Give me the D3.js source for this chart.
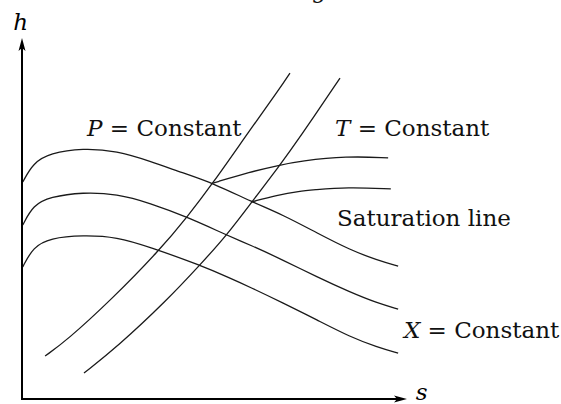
<!DOCTYPE html>
<html>
<head>
<meta charset="utf-8">
<script src="https://cdn.jsdelivr.net/npm/d3@7"></script>
<style>
  html, body { margin: 0; padding: 0; background: #fff; }
  svg { display: block; }
</style>
</head>
<body>
<div id="canvas"></div>
<script>
// Constant-pressure lines, as [s, h] points (arbitrary units, 0..10 on each axis).
const pressure1 = [[0.02, 6.01], [0.29, 6.54], [0.73, 6.81], [1.58, 6.95], [2.47, 6.87], [3.32, 6.59],
                   [4.18, 6.26], [4.96, 5.98], [5.97, 5.46], [6.78, 5.10], [7.66, 4.60], [8.52, 4.13],
                   [9.22, 3.85], [9.77, 3.68]];
const pressure2 = [[0.02, 4.82], [0.29, 5.37], [0.73, 5.60], [1.58, 5.73], [2.47, 5.68], [3.32, 5.43],
                   [4.29, 5.04], [5.32, 4.54], [5.92, 4.27], [6.78, 3.85], [7.66, 3.38], [8.52, 2.96],
                   [9.22, 2.66], [9.77, 2.49]];
const pressure3 = [[0.02, 3.66], [0.29, 4.21], [0.73, 4.46], [1.58, 4.54], [2.47, 4.49], [3.32, 4.21],
                   [4.62, 3.71], [5.40, 3.35], [5.92, 3.10], [6.78, 2.66], [7.66, 2.19], [8.52, 1.72],
                   [9.22, 1.44], [9.77, 1.27]];

// Constant-quality lines (the steep ones).
const quality1 = [[0.60, 1.19], [1.17, 1.63], [2.31, 2.74], [3.58, 4.13], [4.29, 5.04], [4.96, 5.98],
                  [5.92, 7.45], [6.70, 8.61], [6.96, 9.03]];
const quality2 = [[1.61, 0.72], [2.47, 1.44], [3.77, 2.74], [4.62, 3.71], [5.32, 4.54], [5.97, 5.46],
                  [6.70, 6.48], [7.17, 7.17], [8.26, 8.89]];

// Constant-temperature branches above the saturation line.
const temperature1 = [[4.96, 5.98], [5.92, 6.29], [6.70, 6.48], [7.22, 6.59], [8.44, 6.73], [9.51, 6.68]];
const temperature2 = [[5.97, 5.46], [6.62, 5.65], [7.22, 5.76], [7.56, 5.79], [8.44, 5.87], [9.58, 5.82]];

// Label texts: italic symbol + roman remainder.
const labelSymbols = ["P", "T", "", "X"];
const labelTexts = [" = Constant", " = Constant", "Saturation line", " = Constant"];
const labelAnchors = [[1.69, 7.29], [8.13, 7.29], [8.18, 4.79], [9.92, 1.69]];

// Axis names.
const axisNames = ["h", "s"];

const w = 561, h = 404;
const font = "'DejaVu Serif', serif";

const svg = d3.select("#canvas")
    .append("svg")
    .attr("width", w)
    .attr("height", h);

const xScale = d3.scaleLinear().domain([0, 10]).range([22, 407]);
const yScale = d3.scaleLinear().domain([0, 10]).range([399, 38]);

// Basis smoothing irons out the small reading errors in the points.
const line = d3.line()
    .x(d => xScale(d[0]))
    .y(d => yScale(d[1]))
    .curve(d3.curveBasis);

const curves = [pressure1, pressure2, pressure3, quality1, quality2, temperature1, temperature2];

svg.selectAll("path.curve")
    .data(curves)
    .enter()
    .append("path")
    .attr("class", "curve")
    .attr("d", line)
    .attr("fill", "none")
    .attr("stroke", "#1a1a1a")
    .attr("stroke-width", 1.3);

// Axes: two arrows from the origin.
const x0 = xScale(0), y0 = yScale(0);
const xEnd = xScale(10), yEnd = yScale(10);

svg.append("line")
    .attr("x1", x0).attr("y1", y0 + 1)
    .attr("x2", x0).attr("y2", yEnd + 10)
    .attr("stroke", "#000").attr("stroke-width", 2);

svg.append("line")
    .attr("x1", x0 - 1).attr("y1", y0)
    .attr("x2", xEnd - 10).attr("y2", y0)
    .attr("stroke", "#000").attr("stroke-width", 2);

svg.append("path")
    .attr("d", `M${x0},${yEnd} L${x0 - 3.5},${yEnd + 13} L${x0},${yEnd + 10} L${x0 + 3.5},${yEnd + 13} Z`)
    .attr("fill", "#000");

svg.append("path")
    .attr("d", `M${xEnd},${y0} L${xEnd - 13},${y0 - 3.5} L${xEnd - 10},${y0} L${xEnd - 13},${y0 + 3.5} Z`)
    .attr("fill", "#000");

// Axis names.
svg.append("text")
    .attr("x", xScale(-0.23))
    .attr("y", yScale(10.22))
    .attr("font-family", font)
    .attr("font-style", "italic")
    .attr("font-size", 23)
    .text(axisNames[0]);

svg.append("text")
    .attr("x", xScale(10.23))
    .attr("y", yScale(-0.03))
    .attr("font-family", font)
    .attr("font-style", "italic")
    .attr("font-size", 23)
    .text(axisNames[1]);

// Curve labels.
const labels = svg.selectAll("text.label")
    .data(labelTexts)
    .enter()
    .append("text")
    .attr("class", "label")
    .attr("x", (d, i) => xScale(labelAnchors[i][0]))
    .attr("y", (d, i) => yScale(labelAnchors[i][1]))
    .attr("font-family", font)
    .attr("font-size", 23)
    .attr("fill", "#111");

labels.append("tspan")
    .attr("font-style", "italic")
    .text((d, i) => labelSymbols[i]);

labels.append("tspan")
    .text(d => d);

// Fragment of the cut-off caption at the top edge.
svg.append("text")
    .attr("x", 311)
    .attr("y", -2)
    .attr("font-family", font)
    .attr("font-size", 23)
    .attr("fill", "#111")
    .text("g");
</script>
</body>
</html>
